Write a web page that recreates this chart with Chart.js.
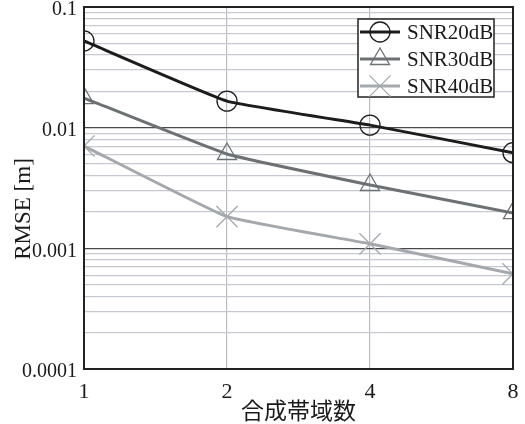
<!DOCTYPE html>
<html>
<head>
<meta charset="utf-8">
<script src="https://cdn.jsdelivr.net/npm/chart.js@4/dist/chart.umd.min.js"></script>
<style>
html,body{margin:0;padding:0;background:#fff;}
#wrap{width:525px;height:424px;position:relative;}
</style>
</head>
<body>
<div id="wrap"><canvas id="c" width="525" height="424"></canvas></div>
<script>
// ---- data ----
const categories = ['1', '2', '4', '8'];
const seriesNames = ['SNR20dB', 'SNR30dB', 'SNR40dB'];
const snr20 = [0.0523, 0.0166, 0.0105, 0.0062];
const snr30 = [0.0176, 0.00605, 0.00335, 0.00196];
const snr40 = [0.00705, 0.00183, 0.00109, 0.000614];
const yDecades = [0.0001, 0.001, 0.01, 0.1];
const yTickLabels = ['0.0001', '0.001', '0.01', '0.1'];
const xTitle = '合成帯域数';
const yTitle = 'RMSE [m]';

const SERIF = "'Liberation Serif', 'Times New Roman', serif";
const CJK = "'Noto Sans CJK JP', 'Noto Sans CJK SC', sans-serif";

function isDecade(v) {
  return yDecades.some(d => Math.abs(v - d) / d < 1e-6);
}

function drawMarker(ctx, style, x, y, r) {
  ctx.beginPath();
  if (style === 'circle') {
    ctx.arc(x, y, r, 0, Math.PI * 2);
  } else if (style === 'triangle') {
    for (let i = 0; i < 3; i++) {
      const a = i * 2 * Math.PI / 3;
      const px = x + Math.sin(a) * r, py = y - Math.cos(a) * r;
      if (i === 0) ctx.moveTo(px, py); else ctx.lineTo(px, py);
    }
    ctx.closePath();
  } else if (style === 'crossRot') {
    const o = Math.cos(Math.PI / 4) * r;
    ctx.moveTo(x - o, y - o); ctx.lineTo(x + o, y + o);
    ctx.moveTo(x + o, y - o); ctx.lineTo(x - o, y + o);
  }
  ctx.stroke();
}

const framePlugin = {
  id: 'frame',
  afterDatasetsDraw(chart) {
    const {ctx, chartArea: a} = chart;
    ctx.save();
    ctx.strokeStyle = '#222';
    ctx.lineWidth = 2;
    ctx.strokeRect(a.left, a.top, a.right - a.left, a.bottom - a.top);
    ctx.restore();
  }
};

const legendPlugin = {
  id: 'boxLegend',
  afterDraw(chart) {
    const ctx = chart.ctx;
    const bx = 358, by = 19, bw = 136, bh = 78;
    ctx.save();
    ctx.fillStyle = '#fff';
    ctx.fillRect(bx, by, bw, bh);
    ctx.strokeStyle = '#222';
    ctx.lineWidth = 1.5;
    ctx.strokeRect(bx, by, bw, bh);
    chart.data.datasets.forEach((ds, i) => {
      const y = 32 + i * 27;
      ctx.strokeStyle = ds.borderColor;
      ctx.lineWidth = ds.borderWidth;
      ctx.beginPath();
      ctx.moveTo(360, y); ctx.lineTo(400, y);
      ctx.stroke();
      ctx.lineWidth = ds.pointBorderWidth;
      drawMarker(ctx, ds.pointStyle, 380, y, ds.pointRadius);
      ctx.fillStyle = '#1a1a1a';
      ctx.font = '21px ' + SERIF;
      ctx.textAlign = 'left';
      ctx.textBaseline = 'middle';
      ctx.fillText(ds.label, 407, y + 1);
    });
    ctx.restore();
  }
};

const yTitlePlugin = {
  id: 'yTitle',
  afterDraw(chart) {
    const ctx = chart.ctx;
    ctx.save();
    ctx.translate(24, 209);
    ctx.rotate(-Math.PI / 2);
    ctx.fillStyle = '#1a1a1a';
    ctx.font = '23px ' + SERIF;
    ctx.textAlign = 'center';
    ctx.textBaseline = 'middle';
    ctx.fillText(yTitle, 0, 0);
    ctx.restore();
  }
};

const colors = ['#1c1c1c', '#6c7174', '#a4a9ae'];
const styles = ['circle', 'triangle', 'crossRot'];
const radii = [10, 11, 15];
const values = [snr20, snr30, snr40];

const datasets = seriesNames.map((name, i) => ({
  label: name,
  data: values[i],
  borderColor: colors[i],
  borderWidth: 3,
  pointStyle: styles[i],
  pointRadius: radii[i],
  pointHoverRadius: radii[i],
  pointBorderWidth: 1.3,
  pointBorderColor: colors[i],
  pointBackgroundColor: 'rgba(0,0,0,0)',
  tension: 0.1,
  fill: false,
  clip: 0
}));

new Chart(document.getElementById('c'), {
  type: 'line',
  data: { labels: categories, datasets },
  plugins: [framePlugin, legendPlugin, yTitlePlugin],
  options: {
    responsive: false,
    animation: false,
    devicePixelRatio: 1,
    layout: { autoPadding: false, padding: { top: 7, right: 12, left: 0, bottom: 0 } },
    plugins: { legend: { display: false }, tooltip: { enabled: false } },
    scales: {
      x: {
        type: 'category',
        offset: false,
        border: { display: false },
        grid: { color: '#b9bdc1', lineWidth: 1.2, drawTicks: false },
        ticks: { font: { family: SERIF, size: 22 }, color: '#1a1a1a', padding: 10, maxRotation: 0, autoSkip: false },
        title: { display: true, text: xTitle, font: { family: CJK, size: 23 }, color: '#1a1a1a', padding: { top: 0, bottom: 0 } },
        afterFit(s) { s.height = 55; s.paddingLeft = 0; s.paddingRight = 0; }
      },
      y: {
        type: 'logarithmic',
        min: yDecades[0],
        max: yDecades[yDecades.length - 1],
        border: { display: false },
        grid: {
          drawTicks: false,
          color: ctx => (ctx.tick && isDecade(ctx.tick.value)) ? '#4a4a4a' : '#c6cad0',
          lineWidth: ctx => (ctx.tick && isDecade(ctx.tick.value)) ? 1.3 : 1.2
        },
        afterBuildTicks(s) {
          const t = [];
          for (let d = 0; d < yDecades.length - 1; d++) {
            for (let m = 1; m <= 9; m++) t.push({ value: +(m * yDecades[d]).toPrecision(6) });
          }
          t.push({ value: yDecades[yDecades.length - 1] });
          s.ticks = t;
        },
        ticks: {
          font: { family: SERIF, size: 20 },
          color: '#1a1a1a',
          padding: 7,
          labelOffset: 3,
          autoSkip: false,
          callback(v) {
            const i = yDecades.findIndex(d => Math.abs(v - d) / d < 1e-6);
            return i >= 0 ? yTickLabels[i] : '';
          }
        },
        afterFit(s) { s.width = 84; s.paddingTop = 0; s.paddingBottom = 0; }
      }
    }
  }
});
</script>
</body>
</html>
